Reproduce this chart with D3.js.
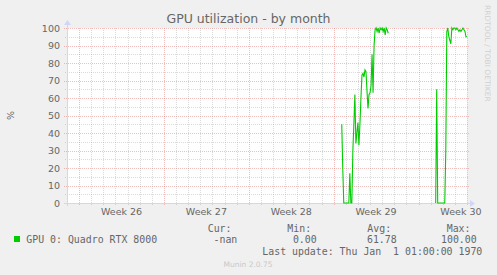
<!DOCTYPE html>
<html>
<head>
<meta charset="utf-8">
<script src="https://cdn.jsdelivr.net/npm/d3@7"></script>
<style>
  body { margin: 0; background: #f0f0f0; }
  svg { display: block; }
  text { font-family: "DejaVu Sans", sans-serif; fill: #666; }
  text.mono { font-family: "DejaVu Sans Mono", monospace; white-space: pre; }
</style>
</head>
<body>
<svg class="munin" width="497" height="275"></svg>
<script>
// chart data
const title = "GPU utilization - by month";
const seriesName = "GPU 0: Quadro RTX 8000";
const windowStart = "2021-06-27T00:00:00Z";
const windowEnd = "2021-07-30T00:00:00Z";
const stepHours = 2;

// first burst of activity (one value per step)
const burst1Start = "2021-07-19T16:00:00Z";
const burst1Values = [45, 20, 0, 0, 0, 0, 0, 0, 17, 0, 0, 30, 45, 62, 34, 40, 46, 33, 45, 60,
  73, 74, 72, 76, 75, 64, 54, 62, 63, 67, 85, 63, 90, 99, 100, 98, 100, 97, 100, 99,
  100, 98, 100, 96, 100, 99, 97];

// second burst
const burst2Start = "2021-07-27T10:00:00Z";
const burst2Values = [0, 65, 0, 0, 0, 0, 0, 0, 0, 0, 30, 98, 100, 95, 93, 91, 100, 99, 100, 100,
  99, 100, 99, 98, 99, 98, 99, 100, 99, 98, 95, 95];

const yTicks = [0, 10, 20, 30, 40, 50, 60, 70, 80, 90, 100];
const yMinorTicks = [5, 15, 25, 35, 45, 55, 65, 75, 85, 95];
const legendHeaders = ["Cur:", "Min:", "Avg:", "Max:"];
const legendValues = ["-nan", "0.00", "61.78", "100.00"];
const lastUpdate = "Last update: Thu Jan  1 01:00:00 1970";
const footer = "Munin 2.0.75";
const watermark = "RRDTOOL / TOBI OETIKER";

// layout
var margin = {top: 28, left: 67},
    width = 400,
    height = 175;
var bottom = margin.top + height, right = margin.left + width;

const svg = d3.select("svg.munin");

var x = d3.scaleUtc()
    .domain([new Date(windowStart), new Date(windowEnd)])
    .range([margin.left, right]);
var y = d3.scaleLinear().domain([0, 100]).range([bottom, margin.top]);

// build points from the stored values
function toPoints(start, values) {
  var t0 = new Date(start).getTime();
  return values.map(function(v, i) {
    return {time: new Date(t0 + i * stepHours * 3600 * 1000), value: v};
  });
}
const bursts = [toPoints(burst1Start, burst1Values), toPoints(burst2Start, burst2Values)];

// canvas
svg.append("rect")
    .attr("x", margin.left).attr("y", margin.top)
    .attr("width", width).attr("height", height)
    .attr("fill", "#fff");

// minor grid: days and every 5 %
var days = x.ticks(d3.utcDay.every(1));
var mondays = d3.utcMonday.range(x.domain()[0], x.domain()[1]);
var isMonday = function(d) { return d.getUTCDay() === 1; };
var minorColor = "rgba(150,150,150,0.35)";
var majorColor = "rgba(225,110,110,0.45)";

svg.append("g")
  .selectAll("line")
  .data(days.filter(function(d) { return !isMonday(d); }))
  .join("line")
    .attr("x1", function(d) { return Math.round(x(d)) + 0.5; })
    .attr("x2", function(d) { return Math.round(x(d)) + 0.5; })
    .attr("y1", margin.top)
    .attr("y2", bottom + 2)
    .attr("stroke", minorColor)
    .attr("stroke-dasharray", "1,1");

svg.append("g")
  .selectAll("line")
  .data(yMinorTicks)
  .join("line")
    .attr("x1", margin.left - 2)
    .attr("x2", right + 2)
    .attr("y1", function(d) { return Math.round(y(d)) + 0.5; })
    .attr("y2", function(d) { return Math.round(y(d)) + 0.5; })
    .attr("stroke", minorColor)
    .attr("stroke-dasharray", "1,1");

// major grid: weeks and every 10 %
svg.append("g")
  .selectAll("line")
  .data(mondays)
  .join("line")
    .attr("x1", function(d) { return Math.round(x(d)) + 0.5; })
    .attr("x2", function(d) { return Math.round(x(d)) + 0.5; })
    .attr("y1", margin.top)
    .attr("y2", bottom + 3)
    .attr("stroke", majorColor)
    .attr("stroke-dasharray", "1,1");

svg.append("g")
  .selectAll("line")
  .data(yTicks)
  .join("line")
    .attr("x1", margin.left - 3)
    .attr("x2", right + 2)
    .attr("y1", function(d) { return Math.round(y(d)) + 0.5; })
    .attr("y2", function(d) { return Math.round(y(d)) + 0.5; })
    .attr("stroke", majorColor)
    .attr("stroke-dasharray", "1,1");

// axes with arrows
var axisColor = "#cfd6f8";
svg.append("line")
    .attr("x1", margin.left - 3).attr("x2", right + 4)
    .attr("y1", bottom + 0.5).attr("y2", bottom + 0.5)
    .attr("stroke", axisColor);
svg.append("line")
    .attr("x1", margin.left + 0.5).attr("x2", margin.left + 0.5)
    .attr("y1", bottom + 3).attr("y2", margin.top - 4)
    .attr("stroke", axisColor);
svg.append("path")
    .attr("d", "M" + (right + 3) + "," + (bottom - 3) + "L" + (right + 8) + "," + (bottom + 0.5) +
      "L" + (right + 3) + "," + (bottom + 4) + "Z")
    .attr("fill", axisColor);
svg.append("path")
    .attr("d", "M" + (margin.left - 3) + "," + (margin.top - 3) + "L" + (margin.left + 0.5) + "," +
      (margin.top - 8) + "L" + (margin.left + 4) + "," + (margin.top - 3) + "Z")
    .attr("fill", axisColor);

// data line
var line = d3.line()
    .x(function(d) { return x(d.time); })
    .y(function(d) { return y(d.value); });

svg.append("g")
  .selectAll("path")
  .data(bursts)
  .join("path")
    .attr("d", line)
    .attr("fill", "none")
    .attr("stroke", "#00cc00")
    .attr("stroke-width", 1.1);

// y labels
svg.append("g")
  .selectAll("text")
  .data(yTicks)
  .join("text")
    .attr("x", margin.left - 7)
    .attr("y", function(d) { return y(d) + 3.5; })
    .attr("text-anchor", "end")
    .style("font-size", "9.5px")
    .text(function(d) { return d; });

// week labels, centred in their week
var weekLabels = d3.utcMonday.range(d3.utcDay.offset(x.domain()[0], -7), x.domain()[1])
  .map(function(d) { return {mid: d3.utcHour.offset(d, 84), label: "Week " + d3.utcFormat("%V")(d)}; })
  .filter(function(d) { return d.mid > x.domain()[0] && d.mid < x.domain()[1]; });

svg.append("g")
  .selectAll("text")
  .data(weekLabels)
  .join("text")
    .attr("x", function(d) { return x(d.mid); })
    .attr("y", 215.3)
    .attr("text-anchor", "middle")
    .style("font-size", "9.5px")
    .text(function(d) { return d.label; });

// axis title and titles
svg.append("text")
    .attr("transform", "translate(13.5," + (margin.top + height / 2) + ") rotate(-90)")
    .attr("text-anchor", "middle")
    .style("font-size", "9.5px")
    .text("%");

svg.append("text")
    .attr("x", 248.5).attr("y", 22.5)
    .attr("text-anchor", "middle")
    .style("font-size", "12.5px")
    .text(title);

svg.append("text")
    .attr("transform", "translate(485,5) rotate(90)")
    .style("font-size", "7.5px")
    .style("fill", "#d0d0d0")
    .text(watermark);

// legend
svg.append("rect")
    .attr("x", 14).attr("y", 236).attr("width", 6).attr("height", 6)
    .attr("fill", "#00cc00");
svg.append("text").attr("class", "mono")
    .attr("x", 26.3).attr("y", 243)
    .style("font-size", "9.9px")
    .text(seriesName);

var headerX = [207.7, 287.3, 367.3, 446.7];
var valueEnd = [237.3, 316.7, 396.7, 476.7];
svg.append("g")
  .selectAll("text")
  .data(legendHeaders)
  .join("text").attr("class", "mono")
    .attr("x", function(d, i) { return headerX[i]; })
    .attr("y", 231.6)
    .style("font-size", "9.9px")
    .text(function(d) { return d; });
svg.append("g")
  .selectAll("text")
  .data(legendValues)
  .join("text").attr("class", "mono")
    .attr("x", function(d, i) { return valueEnd[i]; })
    .attr("y", 243)
    .attr("text-anchor", "end")
    .style("font-size", "9.9px")
    .text(function(d) { return d; });

svg.append("text").attr("class", "mono")
    .attr("x", 482.3).attr("y", 255.3)
    .attr("text-anchor", "end")
    .style("font-size", "9.9px")
    .text(lastUpdate);

svg.append("text")
    .attr("x", 248).attr("y", 267)
    .attr("text-anchor", "middle")
    .style("font-size", "7.5px")
    .style("fill", "#c8c8c8")
    .text(footer);
</script>
</body>
</html>
